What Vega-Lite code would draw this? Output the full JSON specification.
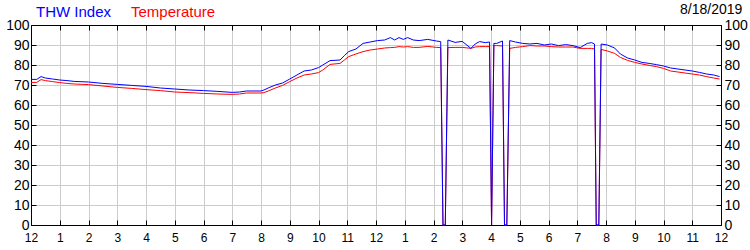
{
  "$schema": "https://vega.github.io/schema/vega-lite/v6.json",
  "width": 690,
  "height": 200,
  "autosize": {"type": "none"},
  "padding": {"left": 31, "top": 25, "right": 29, "bottom": 25},
  "background": "white",
  "config": {
    "font": "Liberation Sans",
    "view": {"stroke": "black", "strokeWidth": 1},
    "axis": {"labelFont": "Liberation Sans", "labelFontSize": 12, "labelColor": "#000000", "domainColor": "#000000", "tickColor": "#000000", "gridColor": "#cccccc", "gridWidth": 1}
  },
  "title": {"text": "8/18/2019", "anchor": "end", "orient": "top", "fontSize": 14, "font": "Liberation Sans", "fontWeight": "normal", "color": "#000000", "offset": -13, "dx": -5},
  "data": {"values": [
    {"h": 0, "thw": 72.8, "temp": 71.3},
    {"h": 0.2, "thw": 72.8, "temp": 71.3},
    {"h": 0.35, "thw": 74.2, "temp": 72.7},
    {"h": 0.5, "thw": 73.5, "temp": 72.2},
    {"h": 0.75, "thw": 73, "temp": 71.7},
    {"h": 1.0, "thw": 72.5, "temp": 71.2},
    {"h": 1.25, "thw": 72.2, "temp": 70.8},
    {"h": 1.5, "thw": 71.8, "temp": 70.5},
    {"h": 2.0, "thw": 71.5, "temp": 70.2},
    {"h": 2.5, "thw": 70.8, "temp": 69.5},
    {"h": 3.0, "thw": 70.3, "temp": 68.8},
    {"h": 3.5, "thw": 69.8, "temp": 68.3},
    {"h": 4.0, "thw": 69.3, "temp": 67.7},
    {"h": 4.5, "thw": 68.5, "temp": 67.2},
    {"h": 5.0, "thw": 68, "temp": 66.5},
    {"h": 5.5, "thw": 67.5, "temp": 66.2},
    {"h": 6.0, "thw": 67.2, "temp": 65.8},
    {"h": 6.5, "thw": 66.8, "temp": 65.5},
    {"h": 7.0, "thw": 66.3, "temp": 65.3},
    {"h": 7.25, "thw": 66.5, "temp": 65.5},
    {"h": 7.5, "thw": 67, "temp": 66},
    {"h": 8.0, "thw": 67, "temp": 66},
    {"h": 8.1, "thw": 67.5, "temp": 66.2},
    {"h": 8.25, "thw": 68.5, "temp": 67},
    {"h": 8.5, "thw": 70, "temp": 68.5},
    {"h": 8.75, "thw": 71, "temp": 69.8},
    {"h": 9.0, "thw": 73, "temp": 71.7},
    {"h": 9.25, "thw": 75, "temp": 73.5},
    {"h": 9.5, "thw": 77, "temp": 75},
    {"h": 9.75, "thw": 77.5, "temp": 75.5},
    {"h": 10.0, "thw": 78.7, "temp": 76.2},
    {"h": 10.15, "thw": 80, "temp": 77.5},
    {"h": 10.4, "thw": 82.2, "temp": 80.3},
    {"h": 10.75, "thw": 82.5, "temp": 80.8},
    {"h": 10.9, "thw": 84.7, "temp": 82.5},
    {"h": 11.05, "thw": 86.7, "temp": 84.2},
    {"h": 11.3, "thw": 88, "temp": 85.5},
    {"h": 11.55, "thw": 90.8, "temp": 86.7},
    {"h": 11.8, "thw": 91.5, "temp": 87.5},
    {"h": 12.05, "thw": 92.2, "temp": 88},
    {"h": 12.3, "thw": 92.5, "temp": 88.5},
    {"h": 12.5, "thw": 93.7, "temp": 88.7},
    {"h": 12.65, "thw": 92.5, "temp": 88.8},
    {"h": 12.8, "thw": 93.7, "temp": 89.2},
    {"h": 12.95, "thw": 92.8, "temp": 89},
    {"h": 13.1, "thw": 93.7, "temp": 89.2},
    {"h": 13.3, "thw": 92.5, "temp": 88.8},
    {"h": 13.5, "thw": 92.2, "temp": 88.8},
    {"h": 13.8, "thw": 92.8, "temp": 89.3},
    {"h": 14.1, "thw": 92, "temp": 88.8},
    {"h": 14.25, "thw": 91.7, "temp": 88.7},
    {"h": 14.33, "thw": 0, "temp": 0},
    {"h": 14.41, "thw": 0, "temp": 0},
    {"h": 14.5, "thw": 92.5, "temp": 88.7},
    {"h": 14.75, "thw": 91.3, "temp": 88.8},
    {"h": 15.0, "thw": 91.8, "temp": 88.8},
    {"h": 15.2, "thw": 89.5, "temp": 88.5},
    {"h": 15.3, "thw": 88.3, "temp": 88.3},
    {"h": 15.45, "thw": 90.5, "temp": 89},
    {"h": 15.6, "thw": 91.7, "temp": 89.2},
    {"h": 15.8, "thw": 91.2, "temp": 89.2},
    {"h": 15.95, "thw": 91.5, "temp": 89.2},
    {"h": 16.02, "thw": 0, "temp": 0},
    {"h": 16.1, "thw": 90.8, "temp": 89.7},
    {"h": 16.2, "thw": 90.8, "temp": 89.7},
    {"h": 16.4, "thw": 92, "temp": 89.5},
    {"h": 16.47, "thw": 0, "temp": 0},
    {"h": 16.55, "thw": 0, "temp": 0},
    {"h": 16.65, "thw": 92.2, "temp": 88.3},
    {"h": 16.85, "thw": 91.5, "temp": 88.8},
    {"h": 17.1, "thw": 90.8, "temp": 89.2},
    {"h": 17.35, "thw": 90.5, "temp": 89.7},
    {"h": 17.6, "thw": 90.8, "temp": 89.5},
    {"h": 17.85, "thw": 90, "temp": 89.5},
    {"h": 18.1, "thw": 90.5, "temp": 89.2},
    {"h": 18.35, "thw": 89.7, "temp": 89},
    {"h": 18.6, "thw": 90.2, "temp": 89},
    {"h": 18.85, "thw": 89.7, "temp": 89},
    {"h": 19.1, "thw": 88.7, "temp": 88.3},
    {"h": 19.35, "thw": 90.8, "temp": 88.3},
    {"h": 19.5, "thw": 91.2, "temp": 88.3},
    {"h": 19.6, "thw": 90.5, "temp": 88},
    {"h": 19.66, "thw": 0, "temp": 0},
    {"h": 19.75, "thw": 0, "temp": 0},
    {"h": 19.83, "thw": 90.5, "temp": 87.8},
    {"h": 20.05, "thw": 90, "temp": 87},
    {"h": 20.3, "thw": 88.5, "temp": 85.8},
    {"h": 20.5, "thw": 85.5, "temp": 83.8},
    {"h": 20.75, "thw": 83.5, "temp": 82.3},
    {"h": 21.0, "thw": 82.5, "temp": 81.3},
    {"h": 21.25, "thw": 81.3, "temp": 80.5},
    {"h": 21.5, "thw": 80.8, "temp": 79.8},
    {"h": 21.75, "thw": 80.2, "temp": 79.2},
    {"h": 22.0, "thw": 79.5, "temp": 78.3},
    {"h": 22.25, "thw": 78.5, "temp": 77},
    {"h": 22.5, "thw": 78, "temp": 76.5},
    {"h": 22.75, "thw": 77.5, "temp": 76},
    {"h": 23.0, "thw": 77, "temp": 75.5},
    {"h": 23.25, "thw": 76.3, "temp": 75},
    {"h": 23.5, "thw": 75.5, "temp": 74.2},
    {"h": 23.75, "thw": 75, "temp": 73.5},
    {"h": 23.95, "thw": 74.2, "temp": 73}
  ]},
  "layer": [
    {
      "mark": {"type": "line", "strokeWidth": 1, "interpolate": "linear"},
      "encoding": {
        "x": {"field": "h", "type": "quantitative", "scale": {"domain": [0, 24], "nice": false, "zero": false},
          "axis": {"orient": "bottom", "title": null, "values": [0,1,2,3,4,5,6,7,8,9,10,11,12,13,14,15,16,17,18,19,20,21,22,23,24], "labelExpr": "datum.value % 12 == 0 ? '12' : '' + (datum.value % 12)", "tickSize": -5, "labelPadding": 12, "labelFlush": false, "labelOverlap": false, "grid": true}},
        "y": {"field": "temp", "type": "quantitative", "scale": {"domain": [0, 100], "nice": false},
          "axis": {"orient": "left", "title": null, "values": [0,10,20,30,40,50,60,70,80,90,100], "tickSize": -5, "labelPadding": 7, "labelFontSize": 14, "grid": true, "labelFlush": false}},
        "color": {"datum": "Temperature", "type": "nominal",
          "scale": {"domain": ["THW Index", "Temperature"], "range": ["#0000ff", "#ff0000"]},
          "legend": {"orient": "none", "legendX": 0, "legendY": -21, "direction": "horizontal", "title": null,
            "symbolOpacity": 0, "symbolSize": 0, "symbolStrokeWidth": 0, "labelFont": "Liberation Sans", "labelFontSize": 15, "columnPadding": 7, "symbolOffset": -14,
            "labelColor": {"expr": "datum.label == 'THW Index' ? '#0000ff' : '#ff0000'"}}}
      }
    },
    {
      "mark": {"type": "line", "strokeWidth": 1, "interpolate": "linear"},
      "encoding": {
        "x": {"field": "h", "type": "quantitative", "axis": null},
        "y": {"field": "thw", "type": "quantitative", "axis": null},
        "color": {"datum": "THW Index", "type": "nominal"}
      }
    },
    {
      "mark": {"type": "rule", "opacity": 0},
      "encoding": {
        "y": {"datum": 0, "type": "quantitative", "axis": {"orient": "right", "title": null, "values": [0,10,20,30,40,50,60,70,80,90,100], "tickSize": -5, "labelPadding": 8, "labelFontSize": 14, "grid": false, "labelFlush": false}}
      }
    },
    {
      "mark": {"type": "rule", "opacity": 0},
      "encoding": {
        "x": {"datum": 0, "type": "quantitative", "axis": {"orient": "top", "title": null, "values": [0,1,2,3,4,5,6,7,8,9,10,11,12,13,14,15,16,17,18,19,20,21,22,23,24], "tickSize": -5, "labels": false, "grid": false}}
      }
    }
  ],
  "resolve": {"axis": {"y": "independent", "x": "independent"}}
}
